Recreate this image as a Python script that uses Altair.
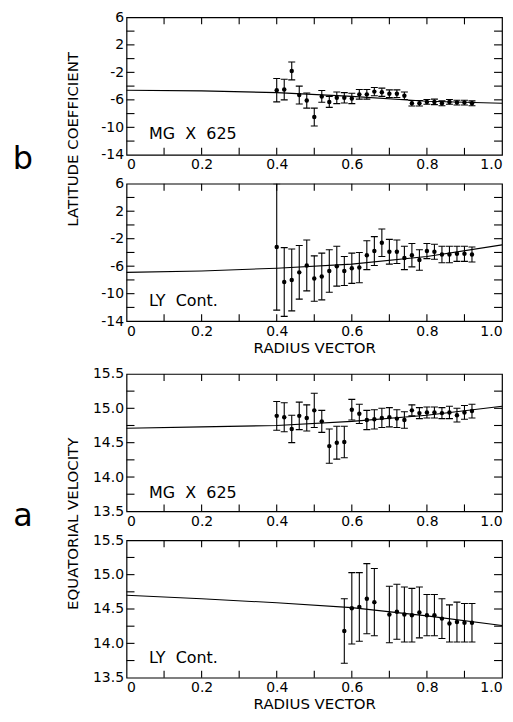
import altair as alt
import pandas as pd

# ---------------- data ----------------
radius_mg = [0.40, 0.42, 0.44, 0.46, 0.48, 0.50, 0.52, 0.54, 0.56, 0.58, 0.60, 0.62, 0.64, 0.66,
             0.68, 0.70, 0.72, 0.74, 0.76, 0.78, 0.80, 0.82, 0.84, 0.86, 0.88, 0.90, 0.92]

# panel b, MG X 625 (latitude coefficient)
lat_mg = [-4.6, -4.5, -1.8, -5.3, -6.1, -8.5, -5.5, -6.3, -5.7, -5.7, -5.8, -5.2, -5.2, -4.8,
          -4.9, -5.1, -5.1, -5.4, -6.5, -6.5, -6.3, -6.3, -6.5, -6.3, -6.4, -6.4, -6.5]
lat_mg_err = [1.7, 1.5, 1.3, 1.3, 1.1, 1.3, 0.85, 0.8, 0.85, 0.75, 0.75, 0.7, 0.7, 0.6,
              0.6, 0.55, 0.55, 0.55, 0.4, 0.4, 0.35, 0.4, 0.35, 0.35, 0.35, 0.35, 0.35]

# panel b, LY Cont.
lat_ly = [-3.2, -8.3, -8.0, -6.9, -5.9, -7.8, -7.5, -6.7, -6.0, -6.7, -6.3, -6.2, -4.4, -3.8,
          -2.6, -3.9, -3.9, -4.8, -4.4, -5.1, -3.8, -3.9, -4.3, -4.3, -4.2, -4.2, -4.3]
lat_ly_err = [9.2, 5.0, 4.5, 3.9, 3.7, 3.3, 3.4, 3.1, 2.9, 2.1, 2.2, 2.2, 2.1, 2.1,
              2.0, 1.8, 1.7, 1.7, 1.7, 1.5, 1.1, 1.1, 1.2, 1.2, 1.1, 1.1, 1.1]

# panel a, MG X 625 (equatorial velocity)
vel_mg = [14.89, 14.87, 14.70, 14.89, 14.86, 14.97, 14.81, 14.45, 14.50, 14.51, 14.98, 14.92, 14.83, 14.84,
          14.86, 14.87, 14.85, 14.83, 14.97, 14.93, 14.94, 14.94, 14.93, 14.94, 14.90, 14.94, 14.96]
vel_mg_err = [0.21, 0.21, 0.20, 0.20, 0.19, 0.25, 0.16, 0.25, 0.24, 0.23, 0.15, 0.14, 0.14, 0.14,
              0.14, 0.14, 0.13, 0.12, 0.08, 0.08, 0.08, 0.08, 0.08, 0.09, 0.10, 0.10, 0.10]

# panel a, LY Cont.
radius_ly = [0.58, 0.60, 0.62, 0.64, 0.66, 0.70, 0.72, 0.74, 0.76, 0.78, 0.80, 0.82, 0.84, 0.86,
             0.88, 0.90, 0.92]
vel_ly = [14.18, 14.51, 14.53, 14.65, 14.60, 14.42, 14.46, 14.42, 14.41, 14.45, 14.41, 14.41, 14.36, 14.29,
          14.31, 14.30, 14.30]
vel_ly_err = [0.47, 0.52, 0.50, 0.51, 0.49, 0.41, 0.40, 0.40, 0.39, 0.37, 0.30, 0.30, 0.29, 0.27,
              0.29, 0.28, 0.28]

# fitted curves
fit_radius = [0.0, 0.2, 0.4, 0.6, 0.8, 1.0]
lat_mg_fit = [-4.6, -4.7, -4.95, -5.5, -6.2, -6.5]
lat_ly_fit = [-6.9, -6.7, -6.3, -5.7, -4.6, -2.9]
vel_mg_fit = [14.71, 14.73, 14.75, 14.81, 14.90, 15.03]
vel_ly_fit = [14.70, 14.65, 14.59, 14.52, 14.40, 14.26]

# axis ticks
x_labels = [0.0, 0.2, 0.4, 0.6, 0.8, 1.0]
x_minor = [0.1, 0.2, 0.3, 0.4, 0.5, 0.6, 0.7, 0.8, 0.9]
lat_labels = [6, 2, -2, -6, -10, -14]
lat_minor = [4, 2, 0, -2, -4, -6, -8, -10, -12]
vel_labels = [13.5, 14.0, 14.5, 15.0, 15.5]
vel_minor = [13.75, 14.0, 14.25, 14.5, 14.75, 15.0, 15.25]

FONT = "DejaVu Sans"
W, H = 377, 138


def panel(r, v, e, fit, ydom, ylabels, yminor, ylabel_expr, name, name_y,
          ytitle="", ytitle_y=0, xtitle="", letter=None, letter_y=0):
    d = pd.DataFrame({"r": r, "v": v,
                      "lo": [a - b for a, b in zip(v, e)],
                      "hi": [a + b for a, b in zip(v, e)]})
    fd = pd.DataFrame({"r": fit_radius, "v": fit})
    xt = pd.DataFrame({"r": x_minor})
    yt = pd.DataFrame({"v": yminor})

    xaxis_kw = dict(values=x_labels, title=xtitle,
                    labelExpr="datum.value == 0 ? '0' : format(datum.value, '.1f')",
                    labelPadding=3, titlePadding=2)
    yaxis_kw = dict(values=ylabels, title=ytitle, labelExpr=ylabel_expr, labelPadding=3)
    if ytitle:
        yaxis_kw.update(titleX=-54, titleY=ytitle_y, titleBaseline="middle",
                        titleAlign="center", titleAngle=-90)
    xscale = alt.Scale(domain=[0, 1], nice=False, zero=False)
    yscale = alt.Scale(domain=ydom, nice=False, zero=False)

    def X(f):
        return alt.X(f, type="quantitative", scale=xscale, axis=alt.Axis(**xaxis_kw))

    def Y(f):
        return alt.Y(f, type="quantitative", scale=yscale, axis=alt.Axis(**yaxis_kw))

    line = alt.Chart(fd).mark_line(color="black", strokeWidth=1.1).encode(x=X("r"), y=Y("v"))
    bars = alt.Chart(d).mark_rule(color="black", strokeWidth=1.1, clip=True).encode(
        x=X("r"), y=Y("lo"), y2=alt.Y2("hi"))
    cap_lo = alt.Chart(d).mark_rule(color="black", strokeWidth=1.1, xOffset=-3.5, x2Offset=3.5,
                                    clip=True).encode(x=X("r"), x2=alt.X2("r"), y=Y("lo"))
    cap_hi = alt.Chart(d).mark_rule(color="black", strokeWidth=1.1, xOffset=-3.5, x2Offset=3.5,
                                    clip=True).encode(x=X("r"), x2=alt.X2("r"), y=Y("hi"))
    pts = alt.Chart(d).mark_point(filled=True, color="black", size=20, opacity=1).encode(
        x=X("r"), y=Y("v"))
    top = alt.Chart(xt).mark_rule(color="black", strokeWidth=1.1).encode(
        x=X("r"), y=alt.value(0), y2=alt.value(7))
    bot = alt.Chart(xt).mark_rule(color="black", strokeWidth=1.1).encode(
        x=X("r"), y=alt.value(H - 7), y2=alt.value(H))
    left = alt.Chart(yt).mark_rule(color="black", strokeWidth=1.1).encode(
        y=Y("v"), x=alt.value(0), x2=alt.value(8))
    right = alt.Chart(yt).mark_rule(color="black", strokeWidth=1.1).encode(
        y=Y("v"), x=alt.value(W - 8), x2=alt.value(W))
    lab = alt.Chart(pd.DataFrame({"r": [0.06], "v": [name_y], "s": [name]})).mark_text(
        align="left", baseline="alphabetic", fontSize=16, font=FONT, color="black").encode(
        x=X("r"), y=Y("v"), text="s:N")
    layers = [line, bars, cap_lo, cap_hi, pts, top, bot, left, right, lab]
    if letter:
        let = alt.Chart(pd.DataFrame({"s": [letter]})).mark_text(
            align="center", baseline="alphabetic", fontSize=32, font=FONT, color="black").encode(
            x=alt.value(-104), y=alt.value(letter_y), text="s:N")
        layers.append(let)
    return alt.layer(*layers).properties(width=W, height=H)


def spacer(h):
    return alt.Chart(pd.DataFrame({"s": [0]})).mark_point(opacity=0).encode(
        x=alt.value(0), y=alt.value(0)
    ).properties(width=W, height=h, view=alt.ViewBackground(strokeOpacity=0, fillOpacity=0))


lat_expr = "'' + datum.value"
vel_expr = "format(datum.value, '.1f')"
NB = "\u00a0\u00a0"

p1 = panel(radius_mg, lat_mg, lat_mg_err, lat_mg_fit, [-14, 6], lat_labels, lat_minor, lat_expr,
           "MG" + NB + "X" + NB + "625", -11.7, ytitle="LATITUDE COEFFICIENT", ytitle_y=122,
           letter="b", letter_y=152)
p2 = panel(radius_mg, lat_ly, lat_ly_err, lat_ly_fit, [-14, 6], lat_labels, lat_minor, lat_expr,
           "LY" + NB + "Cont.", -11.8, xtitle="RADIUS VECTOR")
p3 = panel(radius_mg, vel_mg, vel_mg_err, vel_mg_fit, [13.5, 15.5], vel_labels, vel_minor, vel_expr,
           "MG" + NB + "X" + NB + "625", 13.70, ytitle="EQUATORIAL VELOCITY", ytitle_y=150,
           letter="a", letter_y=153)
p4 = panel(radius_ly, vel_ly, vel_ly_err, vel_ly_fit, [13.5, 15.5], vel_labels, vel_minor, vel_expr,
           "LY" + NB + "Cont.", 13.71, xtitle="RADIUS VECTOR")

chart = alt.vconcat(p1, spacer(29), p2, spacer(53), p3, spacer(29), p4,
                    spacing=0, bounds="flush").properties(
    padding={"left": 4, "top": 0, "right": 0, "bottom": 0},
    background="white",
).configure_view(stroke="black", strokeWidth=1.2).configure_axis(
    ticks=False, tickSize=0, domain=False, grid=False,
    labelFont=FONT, labelFontSize=14, labelColor="black",
    titleFont=FONT, titleFontSize=15, titleFontWeight="normal", titleColor="black",
)

chart.save("out.html", embed_options={"renderer": "svg", "actions": False})
